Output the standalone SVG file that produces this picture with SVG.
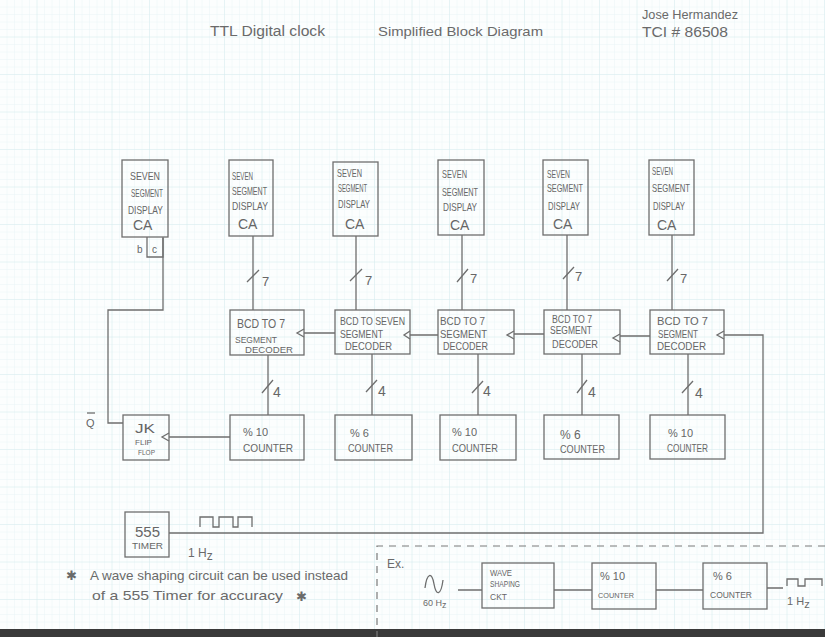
<svg xmlns="http://www.w3.org/2000/svg" width="825" height="637" viewBox="0 0 825 637">
<defs>
<pattern id="minor" width="7.5" height="7.5" patternUnits="userSpaceOnUse">
<path d="M7.5 0V7.5M0 7.5H7.5" fill="none" stroke="#dff1f3" stroke-width="0.6"/>
</pattern>
<pattern id="major" width="37.5" height="37.5" patternUnits="userSpaceOnUse">
<path d="M37.5 0V37.5M0 37.5H37.5" fill="none" stroke="#cfe8ec" stroke-width="0.7"/>
</pattern>
</defs>
<style>
.box{fill:none;stroke:#6e6e6e;stroke-width:1.3}
.ln{fill:none;stroke:#6e6e6e;stroke-width:1.3}
.dash{fill:none;stroke:#7a7a7a;stroke-width:1.2;stroke-dasharray:7 6}
.t{font-family:"Liberation Sans",Arial,sans-serif;fill:#666}
.ca{font-family:"Liberation Sans",Arial,sans-serif;font-size:14px;fill:#666}
.h{font-family:"Liberation Sans",Arial,sans-serif;fill:#6a6a6a}
</style>
<rect width="825" height="637" fill="#fcfefe"/>
<rect width="825" height="637" fill="url(#minor)"/>
<rect width="825" height="637" fill="url(#major)"/>
<rect x="0" y="629" width="825" height="8" fill="#3a3a3a"/>

<g id="title">
<text class="h" x="210" y="36" font-size="14" textLength="115" lengthAdjust="spacingAndGlyphs">TTL Digital clock</text>
<text class="h" x="378" y="36" font-size="13" textLength="165" lengthAdjust="spacingAndGlyphs">Simplified Block Diagram</text>
<text class="h" x="642" y="19" font-size="12" textLength="96" lengthAdjust="spacingAndGlyphs">Jose Hermandez</text>
<text class="h" x="642" y="37" font-size="14" textLength="86" lengthAdjust="spacingAndGlyphs">TCI # 86508</text>
</g>

<g id="connectors" font-size="9">
<path class="ln" d="M163 238V310H108V423H123"/>
<path class="ln" d="M253 236V310M356 236V310M462 235V310M567 235V310M672 235V310"/>
<path class="ln" d="M247 282L259 270M350 281L362 269M457 282L468 269M563 279L574 267M667 281L678 269"/>
<path class="ln" d="M268 355V415M372 354V415M478 354V415M582 354V415M688 354V415"/>
<path class="ln" d="M262 393L273 380M366 392L377 380M472 393L483 381M577 393L587 380M682 393L693 381"/>
<path class="ln" d="M335 333H304M438 335H410M544 334H514M650 336H620M724 335H763V533H169"/>
<path class="ln" d="M230 437H169"/>
<path class="ln" d="M200 527V517H213V527H219V517H233V527H238V517H252V527"/>
<path class="dash" d="M825 546H377V637"/>
<path class="ln" d="M458 590H482M554 590H592M656 590H703M767 588H783"/>
<path class="ln" d="M425 588C427 572 432 572 434 584C436 596 441 596 443 580"/>
<path class="ln" d="M787 586V579H798V586H805V579H822V586"/>
<text class="t" x="262" y="286" font-size="13">7</text>
<text class="t" x="365" y="285" font-size="13">7</text>
<text class="t" x="470" y="283" font-size="13">7</text>
<text class="t" x="575" y="281" font-size="13">7</text>
<text class="t" x="680" y="283" font-size="13">7</text>
<text class="t" x="273" y="397" font-size="14">4</text>
<text class="t" x="378" y="396" font-size="14">4</text>
<text class="t" x="483" y="396" font-size="14">4</text>
<text class="t" x="588" y="397" font-size="14">4</text>
<text class="t" x="695" y="398" font-size="14">4</text>
<text class="t" x="86" y="427" font-size="11">Q</text>
<path class="ln" d="M87 413H95" stroke-width="1"/>
<text class="h" x="188" y="557" font-size="12">1 H<tspan dy="3">z</tspan></text>
<text class="h" x="787" y="605" font-size="11">1 H<tspan dy="3">z</tspan></text>
<text class="h" x="423" y="606" font-size="9">60 H<tspan dy="2">z</tspan></text>
</g>

<g id="disp1" font-size="10.5">
<rect class="box" x="122" y="160" width="46" height="77"/>
<text class="t" x="130" y="180" textLength="30" lengthAdjust="spacingAndGlyphs">SEVEN</text>
<text class="t" x="131" y="197" textLength="32" lengthAdjust="spacingAndGlyphs">SEGMENT</text>
<text class="t" x="128" y="214" textLength="35" lengthAdjust="spacingAndGlyphs">DISPLAY</text>
<text class="ca" x="133" y="230">CA</text>
<path class="box" d="M147 237V257H163V237"/>
<text class="t" x="137" y="253" font-size="10">b</text>
<text class="t" x="152" y="253" font-size="10">c</text>
</g>
<g id="disp2" font-size="10.5">
<rect class="box" x="229" y="160" width="44" height="76"/>
<text class="t" x="232" y="180" textLength="21" lengthAdjust="spacingAndGlyphs">SEVEN</text>
<text class="t" x="232" y="195" textLength="35" lengthAdjust="spacingAndGlyphs">SEGMENT</text>
<text class="t" x="232" y="210" textLength="36" lengthAdjust="spacingAndGlyphs">DISPLAY</text>
<text class="ca" x="238" y="229">CA</text>
</g>
<g id="disp3" font-size="10.5">
<rect class="box" x="333" y="162" width="45" height="74"/>
<text class="t" x="337" y="177" textLength="25" lengthAdjust="spacingAndGlyphs">SEVEN</text>
<text class="t" x="338" y="192" textLength="29" lengthAdjust="spacingAndGlyphs">SEGMENT</text>
<text class="t" x="338" y="208" textLength="32" lengthAdjust="spacingAndGlyphs">DISPLAY</text>
<text class="ca" x="345" y="229">CA</text>
</g>
<g id="disp4" font-size="10.5">
<rect class="box" x="438" y="160" width="46" height="75"/>
<text class="t" x="442" y="178" textLength="25" lengthAdjust="spacingAndGlyphs">SEVEN</text>
<text class="t" x="442" y="196" textLength="36" lengthAdjust="spacingAndGlyphs">SEGMENT</text>
<text class="t" x="443" y="211" textLength="34" lengthAdjust="spacingAndGlyphs">DISPLAY</text>
<text class="ca" x="450" y="230">CA</text>
</g>
<g id="disp5" font-size="10.5">
<rect class="box" x="543" y="160" width="45" height="75"/>
<text class="t" x="547" y="178" textLength="23" lengthAdjust="spacingAndGlyphs">SEVEN</text>
<text class="t" x="547" y="192" textLength="36" lengthAdjust="spacingAndGlyphs">SEGMENT</text>
<text class="t" x="548" y="210" textLength="32" lengthAdjust="spacingAndGlyphs">DISPLAY</text>
<text class="ca" x="553" y="229">CA</text>
</g>
<g id="disp6" font-size="10.5">
<rect class="box" x="649" y="160" width="45" height="75"/>
<text class="t" x="652" y="175" textLength="21" lengthAdjust="spacingAndGlyphs">SEVEN</text>
<text class="t" x="652" y="192" textLength="38" lengthAdjust="spacingAndGlyphs">SEGMENT</text>
<text class="t" x="653" y="210" textLength="32" lengthAdjust="spacingAndGlyphs">DISPLAY</text>
<text class="ca" x="657" y="230">CA</text>
</g>

<g id="dec1" font-size="9.5">
<rect class="box" x="230" y="310" width="74" height="45"/>
<polyline class="ln" points="304,329 297,333 304,337"/>
<text class="t" x="237" y="328" font-size="12" textLength="48" lengthAdjust="spacingAndGlyphs">BCD TO 7</text>
<text class="t" x="235" y="343" textLength="42" lengthAdjust="spacingAndGlyphs">SEGMENT</text>
<text class="t" x="245" y="353" textLength="48" lengthAdjust="spacingAndGlyphs">DECODER</text>
</g>
<g id="dec2" font-size="10.5">
<rect class="box" x="335" y="310" width="75" height="44"/>
<polyline class="ln" points="410,331 404,335 410,339"/>
<text class="t" x="340" y="325" textLength="65" lengthAdjust="spacingAndGlyphs">BCD TO SEVEN</text>
<text class="t" x="340" y="338" textLength="43" lengthAdjust="spacingAndGlyphs">SEGMENT</text>
<text class="t" x="345" y="350" textLength="47" lengthAdjust="spacingAndGlyphs">DECODER</text>
</g>
<g id="dec3" font-size="10.5">
<rect class="box" x="438" y="310" width="76" height="44"/>
<polyline class="ln" points="514,331 507,335 514,339"/>
<text class="t" x="440" y="325" textLength="45" lengthAdjust="spacingAndGlyphs">BCD TO 7</text>
<text class="t" x="440" y="338" textLength="47" lengthAdjust="spacingAndGlyphs">SEGMENT</text>
<text class="t" x="443" y="350" textLength="45" lengthAdjust="spacingAndGlyphs">DECODER</text>
</g>
<g id="dec4" font-size="10">
<rect class="box" x="544" y="310" width="76" height="44"/>
<polyline class="ln" points="620,334 613,338 620,342"/>
<text class="t" x="552" y="323" textLength="40" lengthAdjust="spacingAndGlyphs">BCD TO 7</text>
<text class="t" x="550" y="334" textLength="42" lengthAdjust="spacingAndGlyphs">SEGMENT</text>
<text class="t" x="552" y="348" textLength="46" lengthAdjust="spacingAndGlyphs">DECODER</text>
</g>
<g id="dec5" font-size="10.5">
<rect class="box" x="650" y="310" width="74" height="44"/>
<polyline class="ln" points="724,331 717,335 724,339"/>
<text class="t" x="657" y="325" font-size="11" textLength="51" lengthAdjust="spacingAndGlyphs">BCD TO 7</text>
<text class="t" x="658" y="338" textLength="40" lengthAdjust="spacingAndGlyphs">SEGMENT</text>
<text class="t" x="657" y="350" textLength="49" lengthAdjust="spacingAndGlyphs">DECODER</text>
</g>

<g id="jk" font-size="9">
<rect class="box" x="123" y="415" width="46" height="45"/>
<polyline class="ln" points="169,433 162,437 169,441"/>
<text class="t" x="135" y="433" font-size="13" textLength="20" lengthAdjust="spacingAndGlyphs">JK</text>
<text class="t" x="135" y="445" font-size="8" textLength="17" lengthAdjust="spacingAndGlyphs">FLIP</text>
<text class="t" x="138" y="455" font-size="8" textLength="17" lengthAdjust="spacingAndGlyphs">FLOP</text>
</g>
<g id="cnt1" font-size="11">
<rect class="box" x="230" y="415" width="74" height="45"/>
<text class="t" x="243" y="436">% 10</text>
<text class="t" x="243" y="452" textLength="50" lengthAdjust="spacingAndGlyphs">COUNTER</text>
</g>
<g id="cnt2" font-size="11">
<rect class="box" x="335" y="415" width="77" height="45"/>
<text class="t" x="350" y="437">% 6</text>
<text class="t" x="348" y="452" textLength="45" lengthAdjust="spacingAndGlyphs">COUNTER</text>
</g>
<g id="cnt3" font-size="11">
<rect class="box" x="440" y="415" width="76" height="45"/>
<text class="t" x="452" y="436">% 10</text>
<text class="t" x="452" y="452" textLength="46" lengthAdjust="spacingAndGlyphs">COUNTER</text>
</g>
<g id="cnt4" font-size="11">
<rect class="box" x="544" y="415" width="75" height="44"/>
<text class="t" x="560" y="439" font-size="12">% 6</text>
<text class="t" x="560" y="453" textLength="45" lengthAdjust="spacingAndGlyphs">COUNTER</text>
</g>
<g id="cnt5" font-size="11">
<rect class="box" x="650" y="415" width="75" height="44"/>
<text class="t" x="668" y="437">% 10</text>
<text class="t" x="667" y="452" textLength="41" lengthAdjust="spacingAndGlyphs">COUNTER</text>
</g>

<g id="timer" font-size="9">
<rect class="box" x="125" y="512" width="44" height="45"/>
<text class="t" x="135" y="537" font-size="14" textLength="25" lengthAdjust="spacingAndGlyphs">555</text>
<text class="t" x="132" y="549" font-size="8.5" textLength="31" lengthAdjust="spacingAndGlyphs">TIMER</text>
</g>

<g id="note">
<text class="h" x="66" y="580" font-size="13" font-family="DejaVu Sans">✱</text>
<text class="h" x="90" y="580" font-size="13" textLength="258" lengthAdjust="spacingAndGlyphs">A wave shaping circuit can be used instead</text>
<text class="h" x="92" y="600" font-size="13" textLength="191" lengthAdjust="spacingAndGlyphs">of a 555 Timer for accuracy</text>
<text class="h" x="296" y="601" font-size="13" font-family="DejaVu Sans">✱</text>
</g>

<g id="ex">
<text class="h" x="387" y="568" font-size="12">Ex.</text>
</g>
<g id="wave" font-size="9">
<rect class="box" x="482" y="563" width="72" height="45"/>
<text class="t" x="490" y="576" font-size="8.5" textLength="22" lengthAdjust="spacingAndGlyphs">WAVE</text>
<text class="t" x="490" y="587" font-size="8.5" textLength="30" lengthAdjust="spacingAndGlyphs">SHAPING</text>
<text class="t" x="490" y="600" font-size="8.5">CKT</text>
</g>
<g id="excnt10" font-size="9">
<rect class="box" x="592" y="563" width="64" height="46"/>
<text class="t" x="600" y="580" font-size="11">%  10</text>
<text class="t" x="598" y="598" font-size="7.5" textLength="36" lengthAdjust="spacingAndGlyphs">COUNTER</text>
</g>
<g id="excnt6" font-size="9">
<rect class="box" x="703" y="563" width="64" height="46"/>
<text class="t" x="713" y="580" font-size="11">%   6</text>
<text class="t" x="710" y="598" font-size="8.5" textLength="42" lengthAdjust="spacingAndGlyphs">COUNTER</text>
</g>
</svg>
